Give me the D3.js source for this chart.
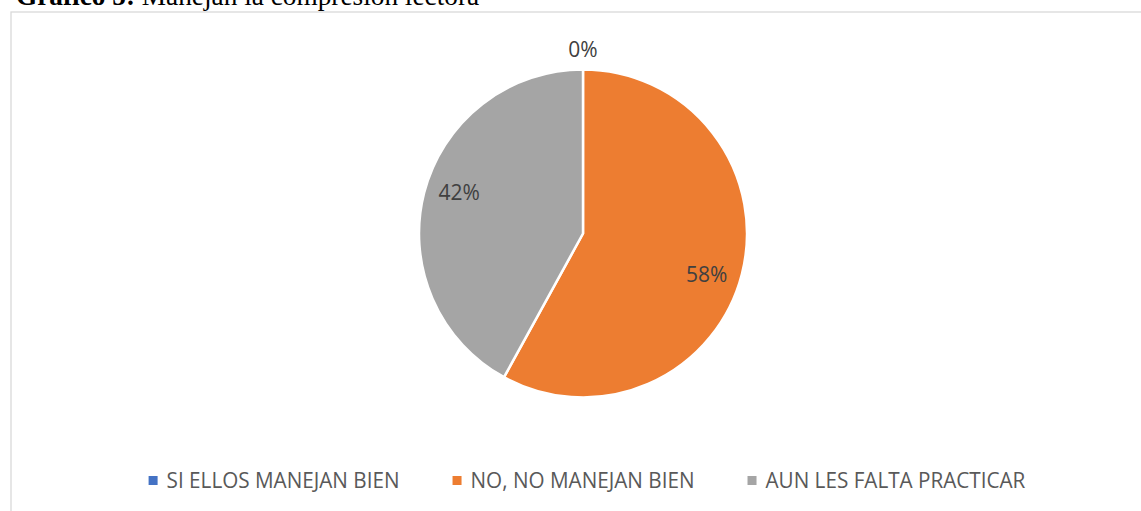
<!DOCTYPE html>
<html>
<head>
<meta charset="utf-8">
<script src="https://cdn.jsdelivr.net/npm/d3@7"></script>
<style>
html,body{margin:0;padding:0;background:#fff;overflow:hidden;}
svg{display:block;}
</style>
</head>
<body>
<svg id="chart" width="1141" height="511"></svg>
<script>
// ---- data ----
const categories = ["SI ELLOS MANEJAN BIEN", "NO, NO MANEJAN BIEN", "AUN LES FALTA PRACTICAR"];
const values = [0, 58, 42];
const labels = ["0%", "58%", "42%"];
const colors = ["#4472C4", "#ED7D31", "#A5A5A5"];
const titleBold = "Gráfico 5:";
const titleRest = " Manejan la compresión lectora";

// ---- layout ----
const W = 1141, H = 511;
const svg = d3.select("#chart");
const cx = 583, cy = 233.5, R = 164;
const sansFont = "'Open Sans', 'Noto Sans', sans-serif";
const condense = 0.985;

// frame
svg.append("rect")
  .attr("x", 11).attr("y", 12)
  .attr("width", W + 20).attr("height", H + 20)
  .attr("fill", "#fff").attr("stroke", "#d9d9d9").attr("stroke-width", 1.3);

// title (cut off at top like reference)
const title = svg.append("text")
  .attr("x", 16).attr("y", 5)
  .attr("font-family", "'Liberation Serif', 'Times New Roman', serif")
  .attr("font-size", 27.3).attr("fill", "#000");
title.append("tspan").attr("font-weight", "bold").text(titleBold);
title.append("tspan").text(titleRest);

// pie
const data = categories.map((c, i) => ({ name: c, value: values[i], label: labels[i], color: colors[i] }));
const pie = d3.pie().value(d => d.value).sort(null);
const arcs = pie(data);
const arc = d3.arc().innerRadius(0).outerRadius(R);
const g = svg.append("g").attr("transform", `translate(${cx},${cy})`);
g.selectAll("path").data(arcs).join("path")
  .attr("d", arc)
  .attr("fill", d => d.data.color)
  .attr("stroke", "#fff").attr("stroke-width", 2.5).attr("stroke-linejoin", "round");

// data labels (best-fit style: inside near the rim, zero slice outside)
const shift = 4 * Math.PI / 180;
function labelPos(d) {
  const mid = (d.startAngle + d.endAngle) / 2;
  if (d.data.value === 0) {
    const r = R + 20;
    return [r * Math.sin(mid), -r * Math.cos(mid)];
  }
  const r = R * 0.795, a = mid + shift;
  return [r * Math.sin(a), -r * Math.cos(a)];
}
g.selectAll("text.lbl").data(arcs).join("text")
  .attr("class", "lbl")
  .attr("transform", d => { const p = labelPos(d); return `translate(${p[0]},${p[1]})`; })
  .attr("text-anchor", "middle")
  .attr("dy", "0.35em")
  .attr("font-family", sansFont)
  .attr("font-size", 21)
  .attr("fill", "#404040")
  .text(d => d.data.label);

// legend
const legend = svg.append("g");
const items = legend.selectAll("g").data(data).join("g");
const box = 9, gapBox = 9, gapItem = 53;
items.append("rect")
  .attr("width", box).attr("height", box)
  .attr("y", -box / 2)
  .attr("fill", d => d.color);
const widths = [];
items.append("text")
  .attr("x", box + gapBox)
  .attr("dy", "0.35em")
  .attr("font-family", sansFont)
  .attr("font-size", 21)
  .attr("fill", "#595959")
  .text(d => d.name)
  .each(function(){
    const w = this.getComputedTextLength() * condense;
    d3.select(this).attr("textLength", w).attr("lengthAdjust", "spacingAndGlyphs");
    widths.push(box + gapBox + w);
  });
const total = d3.sum(widths) + gapItem * (widths.length - 1);
let x0 = 587 - total / 2;
items.attr("transform", (d, i) => {
  const x = x0; x0 += widths[i] + gapItem;
  return `translate(${x},${480.5})`;
});
</script>
</body>
</html>
